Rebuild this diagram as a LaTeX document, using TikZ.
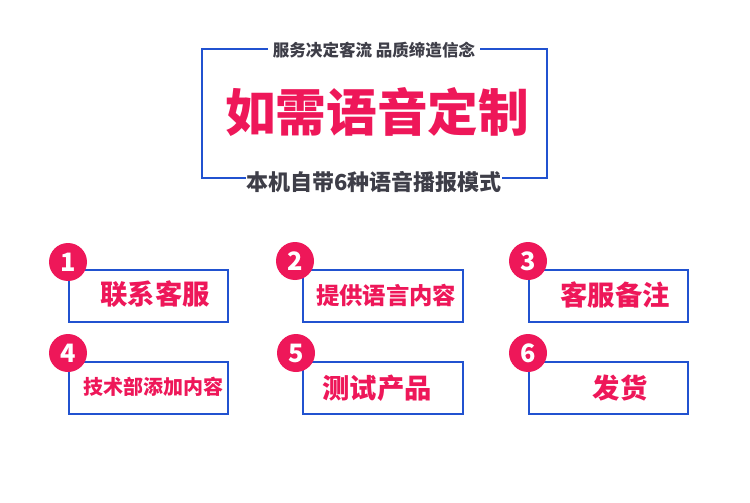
\documentclass[tikz,border=0pt]{standalone}
\usepackage{fontspec}
\newfontfamily\cjk{Noto Sans CJK SC}
\definecolor{pinkc}{HTML}{EE1759}
\definecolor{bluec}{HTML}{2152D0}
\definecolor{grayc}{HTML}{3E3E48}
\begin{document}
\begin{tikzpicture}[x=0.75pt,y=-0.75pt,
  stepbox/.style={draw=bluec,line width=2pt,fill=white},
  numc/.style={circle,fill=pinkc,minimum size=28.5pt,inner sep=0pt,text=white,font=\cjk\bfseries\fontsize{19}{19}\selectfont},
  boxtxt/.style={text=pinkc,inner sep=0pt,anchor=center},
  frameline/.style={draw=bluec,line width=2pt}]
\useasboundingbox (0,0) rectangle (750,503);
\fill[white] (0,0) rectangle (750,503);
% header frame
\node[text=grayc,font=\cjk\bfseries\fontsize{12.4}{12.4}\selectfont,inner sep=0pt] (top) at (374,50) {服务决定客流 品质缔造信念};
\node[text=grayc,font=\cjk\bfseries\fontsize{16.5}{16.5}\selectfont,inner sep=0pt] (bot) at (374,182) {本机自带6种语音播报模式};
\node[text=pinkc,font=\cjk\bfseries\fontsize{38}{38}\selectfont,inner sep=0pt] (title) at (377,112) {如需语音定制};
\coordinate (tl) at (202,49);
\coordinate (tr) at (547,49);
\coordinate (bl) at (202,178);
\coordinate (br) at (547,178);
\draw[frameline] (268,49) -- (tl) -- (bl) -- (246,178);
\draw[frameline] (480,49) -- (tr) -- (br) -- (502,178);
% boxes
\draw[stepbox] (69,270) rectangle (228,322);
\draw[stepbox] (303,270) rectangle (463,322);
\draw[stepbox] (529,270) rectangle (688,322);
\draw[stepbox] (69,362) rectangle (228,414);
\draw[stepbox] (303,362) rectangle (463,414);
\draw[stepbox] (529,362) rectangle (688,414);
\node[boxtxt,font=\cjk\bfseries\fontsize{20.5}{20.5}\selectfont] (t1) at (155,294) {联系客服};
\node[boxtxt,font=\cjk\bfseries\fontsize{17.5}{17.5}\selectfont] (t2) at (386,295) {提供语言内容};
\node[boxtxt,font=\cjk\bfseries\fontsize{20.5}{20.5}\selectfont] (t3) at (615,295) {客服备注};
\node[boxtxt,font=\cjk\bfseries\fontsize{15}{15}\selectfont] (t4) at (153,387) {技术部添加内容};
\node[boxtxt,font=\cjk\bfseries\fontsize{20.5}{20.5}\selectfont] (t5) at (377,388) {测试产品};
\node[boxtxt,font=\cjk\bfseries\fontsize{20.5}{20.5}\selectfont] (t6) at (620,388) {发货};
% number circles
\node[numc] (n1) at (68,262) {1};
\node[numc] (n2) at (295,261) {2};
\node[numc] (n3) at (528,261) {3};
\node[numc] (n4) at (68,353) {4};
\node[numc] (n5) at (296,353) {5};
\node[numc] (n6) at (528,353) {6};
\end{tikzpicture}
\end{document}
